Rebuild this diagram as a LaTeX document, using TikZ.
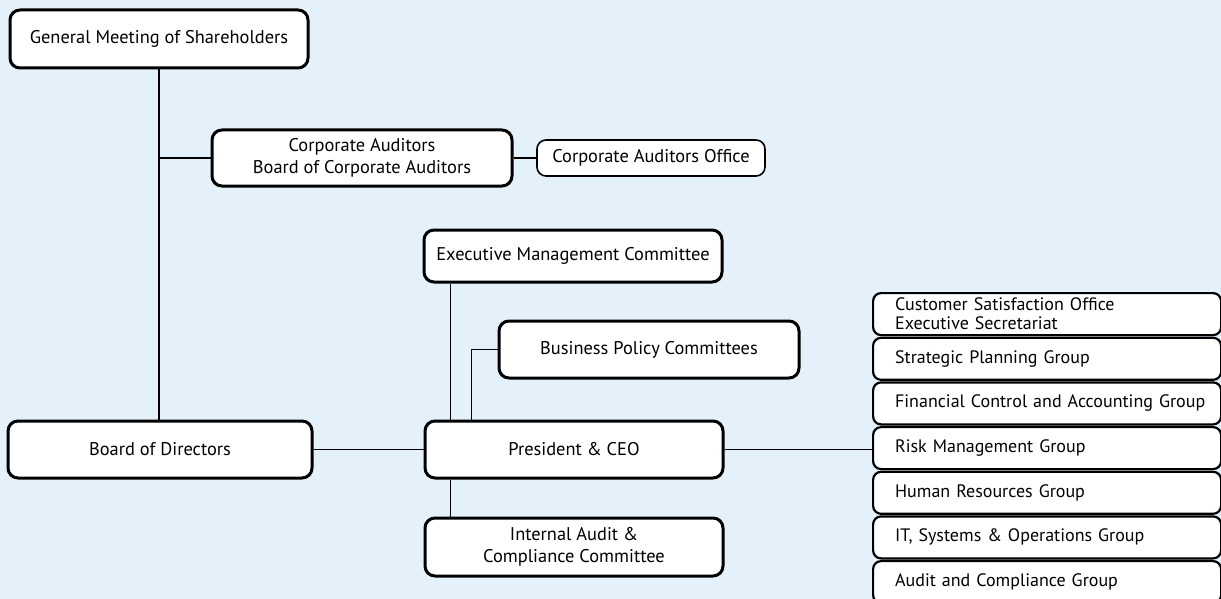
\documentclass[tikz,border=0pt]{standalone}
\usepackage{fontspec}
\setmainfont{PT Sans}
\usetikzlibrary{calc}
\definecolor{bgblue}{RGB}{228,241,251}

\begin{document}
\begin{tikzpicture}[x=1pt,y=-1pt,
		orgbox/.style={draw,line width=3pt,rounded corners=10pt,fill=white,align=center,inner sep=0pt,font=\fontsize{18.4}{22.5}\selectfont},
		officebox/.style={draw,line width=1.6pt,rounded corners=9pt,fill=white,align=center,inner sep=0pt,font=\fontsize{18.4}{22.5}\selectfont},
		groupbox/.style={draw,line width=2.2pt,rounded corners=8pt,fill=white,anchor=north west,minimum height=42pt,text width=304pt,inner xsep=22pt,inner ysep=0pt,align=left,font=\fontsize{18}{19}\selectfont},
		link/.style={line width=1.5pt}]
		\useasboundingbox (0,0) rectangle (1221,599);
		\fill [bgblue] (0,0) rectangle (1221,599);
		\clip (0,0) rectangle (1221,599);
		% left column
		\node [orgbox,minimum width=298pt,minimum height=58pt] (gms) at (159,39) {General Meeting of Shareholders};
		\node [orgbox,minimum width=304pt,minimum height=57pt] (bod) at (160,449.5) {Board of Directors};
		\node [orgbox,minimum width=300pt,minimum height=56pt] (ca) at (362,158) {Corporate Auditors\\Board of Corporate Auditors};
		\node [officebox,minimum width=228pt,minimum height=36pt] (cao) at (651,158) {Corporate Auditors Office};
		% centre column
		\node [orgbox,minimum width=298pt,minimum height=52pt] (emc) at (573,256) {Executive Management Committee};
		\node [orgbox,minimum width=300pt,minimum height=57pt] (bpc) at (649,349.5) {Business Policy Committees};
		\node [orgbox,minimum width=298pt,minimum height=57pt] (ceo) at (574,449.5) {President \& CEO};
		\node [orgbox,minimum width=298pt,minimum height=58pt] (iac) at (574,547) {Internal Audit \&\\Compliance Committee};
		% groups on the right
		\node [groupbox] (cso) at (872,292) {Customer Satisfaction Office\\Executive Secretariat};
		\node [groupbox] (spg) at (872,336.7) {Strategic Planning Group};
		\node [groupbox] (fca) at (872,381.3) {\mbox{Financial Control and Accounting Group}};
		\node [groupbox] (rmg) at (872,426) {Risk Management Group};
		\node [groupbox] (hrg) at (872,470.7) {Human Resources Group};
		\node [groupbox] (itg) at (872,515.3) {IT, Systems \& Operations Group};
		\node [groupbox] (acg) at (872,560) {Audit and Compliance Group};
		% connectors
		\draw [link] (gms.south) -- (gms.south |- bod.north);
		\draw [link] (gms.south |- ca.west) -- (ca.west);
		\draw [link] (ca.east) -- (cao.west);
		\draw [link] (bod.east) -- (ceo.west);
		\coordinate (emcdrop) at ($(ceo.north west)+(27,0)$);
		\coordinate (bpcdrop) at ($(ceo.north west)+(48,0)$);
		\draw [link] (emc.south -| emcdrop) -- (emcdrop);
		\draw [link] (bpc.west) -| (bpcdrop);
		\draw [link] (ceo.south -| emcdrop) -- (iac.north -| emcdrop);
		\draw [link] (ceo.east) -- (ceo.east -| rmg.west);
	\end{tikzpicture}
\end{document}
